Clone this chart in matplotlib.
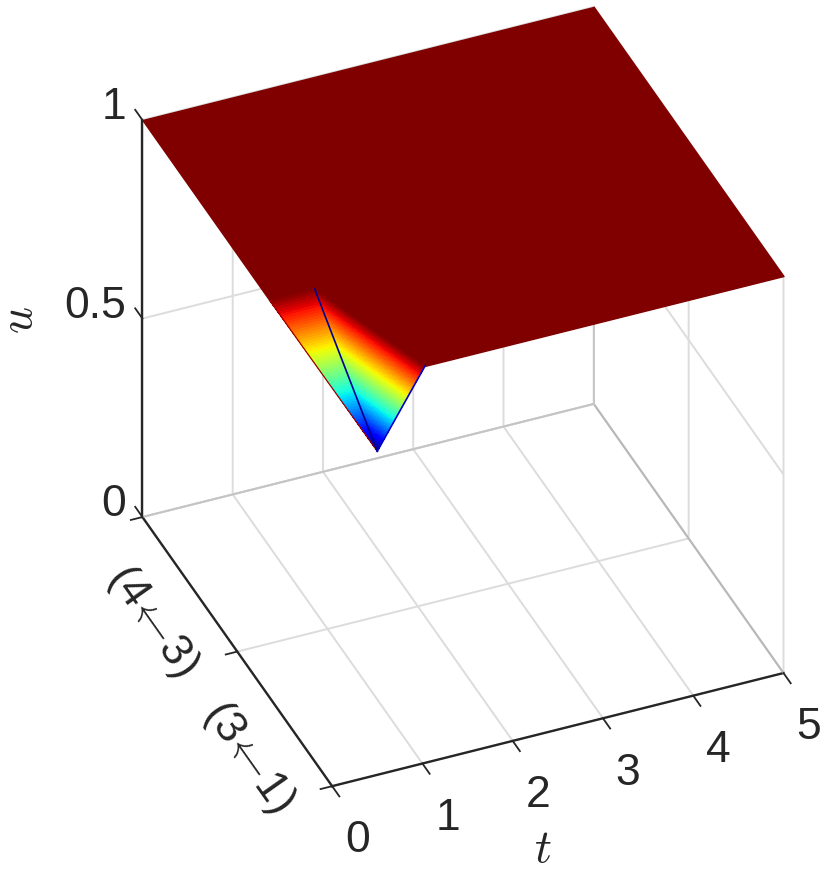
import matplotlib
matplotlib.use("Agg")
import matplotlib.pyplot as plt
import matplotlib.tri as mtri
from mpl_toolkits.mplot3d import proj3d
from mpl_toolkits.mplot3d.art3d import Poly3DCollection
from matplotlib.ticker import NullFormatter
import numpy as np

plt.rcParams['font.family'] = ['Liberation Sans', 'DejaVu Sans']
plt.rcParams['mathtext.fontset'] = 'cm'

# surface nodes (t, edge coordinate, u)
node_t = [0.0, 0.0, 0.5, 0.5, 1.03, 5.0, 5.0]
node_s = [1.0, 0.33, 0.33, 0.0, 0.0, 0.0, 1.0]
node_u = [1.0, 1.0, 1.0, 0.815, 1.0, 1.0, 1.0]
dent_faces = [[1, 2, 3], [2, 3, 4]]
plane_ring = [0, 1, 2, 4, 5, 6]

# blue lines on the surface
valley_t = [0.5, 0.5]
valley_s = [0.33, 0.0]
valley_u = [1.0, 0.815]
front_t = [0.5, 1.03]
front_s = [0.0, 0.0]
front_u = [0.815, 1.0]
# thin red rim on the left of the dent
rim_t = [0.0, 0.5]
rim_s = [0.33, 0.0]
rim_u = [1.0, 0.815]

t_ticks = [0, 1, 2, 3, 4, 5]
s_ticks = [0, 0.5, 1]
u_ticks = [0, 0.5, 1]
u_labels = ['0', '0.5', '1']
edge_labels = ['(3$\\!\\leftarrow\\!$1)', '(4$\\!\\leftarrow\\!$3)']
dark = '#262626'

W, H = 830, 870
fig = plt.figure(figsize=(W / 100, H / 100), dpi=100)
side = 826
cx, cy = 451.8, 408.7
ax = fig.add_axes([(cx - side / 2) / W, (H - cy - side / 2) / H, side / W, side / H],
                  projection='3d', computed_zorder=False)
ax.patch.set_alpha(0)
ax.set_proj_type('ortho')
ax.view_init(elev=36.6, azim=-112.8)
ax.set_box_aspect((1, 1, 1.01))
ax.set_xlim(0, 5)
ax.set_ylim(0, 1)
ax.set_zlim(0, 1)

# flat part at u=1
ring = [(node_t[i], node_s[i], node_u[i]) for i in plane_ring]
plane = Poly3DCollection([ring], facecolor='#800000', edgecolor='#800000', linewidth=1.0, zorder=1)
ax.add_collection3d(plane)

# refine the dent so that the colour runs smoothly over it
tri = mtri.Triangulation(node_t, node_s, dent_faces)
refiner = mtri.UniformTriRefiner(tri)
interp = mtri.LinearTriInterpolator(tri, np.array(node_u))
tri2, u2 = refiner.refine_field(np.array(node_u), triinterpolator=interp, subdiv=6)
surf = ax.plot_trisurf(tri2, u2, cmap='jet', vmin=min(node_u), vmax=1.0, shade=False,
                       linewidth=0, antialiased=False, zorder=1.5)

ax.plot(rim_t, rim_s, rim_u, color='#a00000', lw=0.9, zorder=2)
ax.plot(valley_t, valley_s, valley_u, color='#00008c', lw=1.2, zorder=3)
ax.plot(front_t, front_s, front_u, color='#0000c8', lw=1.2, zorder=3)

ax.set_xticks(t_ticks)
ax.set_yticks(s_ticks)
ax.set_zticks(u_ticks)

for axis in [ax.xaxis, ax.yaxis, ax.zaxis]:
    axis.set_major_formatter(NullFormatter())
    axis.pane.set_visible(False)
    axis.line.set_color(dark)
    axis.line.set_linewidth(1.7)
    axis._axinfo['grid'].update(color='#dcdcdc', linewidth=1.4)
    axis._axinfo['tick'].update(inward_factor=0.0, outward_factor=0.0)

ax.grid(True)

# darker back edges of the box
ax.plot([0, 5], [1, 1], [0, 0], color='#c4c4c4', lw=1.4, zorder=0.5)
ax.plot([5, 5], [0, 1], [0, 0], color='#b8b8b8', lw=1.4, zorder=0.5)
ax.plot([5, 5], [1, 1], [0, 1], color='#c8c8c8', lw=1.4, zorder=0.5)

# tick marks pointing out of the box
for t in t_ticks:
    ax.plot([t, t], [0, -0.038], [0, 0], color=dark, lw=1.3, zorder=4)
for s in s_ticks:
    ax.plot([0, -0.128], [s, s], [0, 0], color=dark, lw=1.3, zorder=4)
for u in u_ticks:
    ax.plot([0, 0], [1, 1.038], [u, u], color=dark, lw=1.3, zorder=4)


def label3d(x, y, z, txt, **kw):
    # put a figure text where the 3d point lands
    px, py, _ = proj3d.proj_transform(x, y, z, ax.get_proj())
    fx, fy = fig.transFigure.inverted().transform(ax.transData.transform((px, py)))
    fig.text(fx, fy, txt, fontsize=32, color=dark, va='center', **kw)


for t in t_ticks:
    label3d(t - 0.12, -0.19, 0, str(t), ha='center')
for u, lab in zip(u_ticks, u_labels):
    label3d(-0.03, 1.07, u - 0.012, lab, ha='right')
for s, lab in zip([0.162, 0.665], edge_labels):
    label3d(-0.59, s, 0, lab, ha='center', rotation=-54.8)

fig.text(543 / W, 1 - 850 / H, '$t$', fontsize=34, color=dark, ha='center', va='center')
fig.text(20 / W, 1 - 320 / H, '$u$', fontsize=34, color=dark, ha='center', va='center', rotation=90)

fig.savefig('out.png', dpi=100)
